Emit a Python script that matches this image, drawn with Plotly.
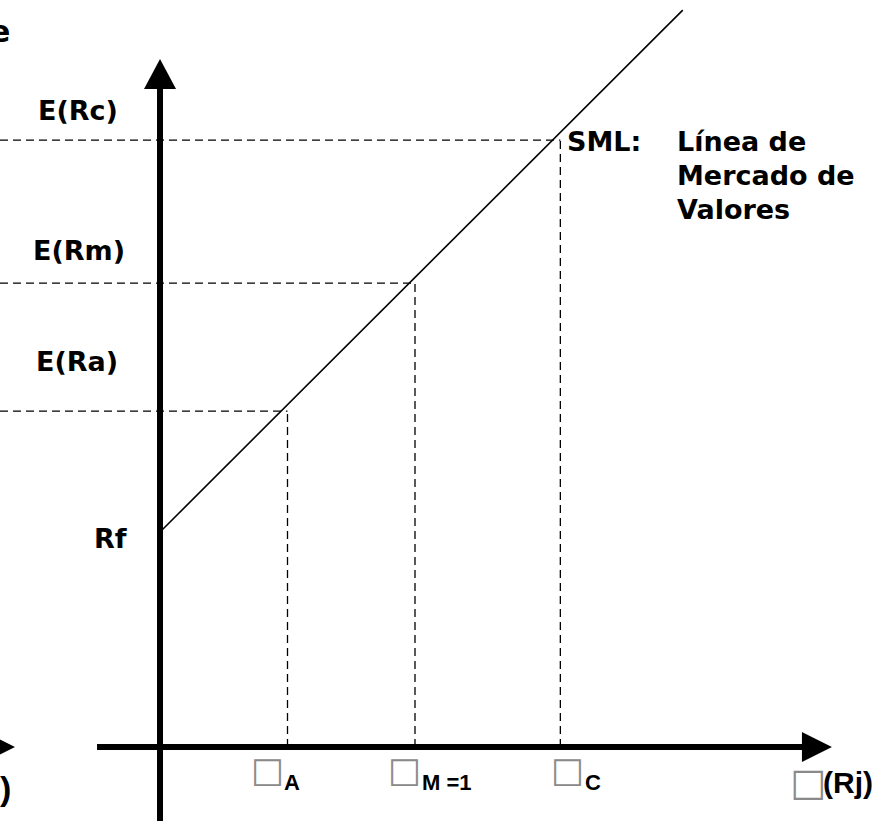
import plotly.graph_objects as go

# ---------------- data ----------------
beta_names = ["A", "M =1", "C"]
betas = [0.50, 1.00, 1.57]
return_names = ["E(Ra)", "E(Rm)", "E(Rc)"]
exp_returns = [6.25, 8.63, 11.29]
rf_label = "Rf"
rf = 4.0
sml_beta = [0.0, 2.05]
sml_return = [4.0, 13.71]
sml_title = "SML:"
sml_desc = ["Línea de", "Mercado de", "Valores"]
x_axis_label = "(Rj)"
box_char = "\u25a1"

# ---------------- layout constants ----------------
X_RANGE = [-0.6275, 2.804]
Y_RANGE = [-1.377, 13.898]
Y_AXIS_TIP = 12.80
X_AXIS_TIP = 2.635
X_AXIS_START = -0.247

FONT = "Liberation Sans, Arial, sans-serif"
BIGFONT = "DejaVu Sans"
BOXFONT = "DejaVu Sans"
DASH = "8px,5px"

fig = go.Figure()

# dashed guides
for b, r in zip(betas, exp_returns):
    fig.add_trace(go.Scatter(x=[X_RANGE[0], b], y=[r, r], mode="lines",
                             line=dict(color="black", width=1.3, dash=DASH),
                             hoverinfo="skip", showlegend=False))
    fig.add_trace(go.Scatter(x=[b, b], y=[0, r], mode="lines",
                             line=dict(color="black", width=1.3, dash=DASH),
                             hoverinfo="skip", showlegend=False))

# SML line
fig.add_trace(go.Scatter(x=sml_beta, y=sml_return, mode="lines",
                         line=dict(color="black", width=1.6),
                         hoverinfo="skip", showlegend=False))

shapes = []
# axes
shapes.append(dict(type="line", xref="x", yref="y", x0=0, x1=0, y0=Y_RANGE[0] - 1, y1=Y_AXIS_TIP - 0.3,
                   line=dict(color="black", width=6)))
shapes.append(dict(type="line", xref="x", yref="y", x0=X_AXIS_START, x1=X_AXIS_TIP - 0.06, y0=0, y1=0,
                   line=dict(color="black", width=6)))
# arrowheads (pixel-sized)
shapes.append(dict(type="path", xref="x", yref="y", xsizemode="pixel", ysizemode="pixel",
                   xanchor=0, yanchor=Y_AXIS_TIP, path="M 0,0 L -16,-30 L 16,-30 Z",
                   fillcolor="black", line=dict(width=0)))
shapes.append(dict(type="path", xref="x", yref="y", xsizemode="pixel", ysizemode="pixel",
                   xanchor=X_AXIS_TIP, yanchor=0, path="M 0,0 L -30,15 L -30,-15 Z",
                   fillcolor="black", line=dict(width=0)))
# partial arrow from neighbouring diagram at left edge
shapes.append(dict(type="path", xref="paper", yref="y", xsizemode="pixel", ysizemode="pixel",
                   xanchor=0, yanchor=0, path="M 15,0 L -15,15 L -15,-15 Z",
                   fillcolor="black", line=dict(width=0)))

ann = []
def A(**kw):
    base = dict(showarrow=False, font=dict(family=BIGFONT, size=27, color="black"))
    f = kw.pop("font", None)
    if f:
        base["font"].update(f)
    base.update(kw)
    ann.append(base)

# return labels
ret_shift = [(-40, 50), (-33, 33), (-40, 30)]
for name, r, (dx, dy) in zip(return_names, exp_returns, ret_shift):
    A(text="<b>%s</b>" % name, x=0, y=r, xref="x", yref="y", xanchor="right", yanchor="middle",
      xshift=dx, yshift=dy)
A(text="<b>%s</b>" % rf_label, x=0, y=rf, xref="x", yref="y", xanchor="right", yanchor="middle",
  xshift=-31, yshift=-6)

# SML labels
A(text="<b>%s</b>" % sml_title, x=betas[2], y=exp_returns[2], xref="x", yref="y",
  xanchor="left", yanchor="middle", xshift=5, yshift=-1)
for i, t in enumerate(sml_desc):
    A(text="<b>%s</b>" % t, x=betas[2], y=exp_returns[2], xref="x", yref="y",
      xanchor="left", yanchor="middle", xshift=115, yshift=-1 - 34 * i)

# beta labels below x axis
box_shift = [-20, -11, 7]
sub_shift = [-6, 5, 23]
for name, b, bs, ss in zip(beta_names, betas, box_shift, sub_shift):
    A(text=box_char, x=b, y=0, xref="x", yref="y", xanchor="center", yanchor="middle",
      xshift=bs, yshift=-23, font=dict(family=BOXFONT, size=35, color="#8a8a8a"))
    A(text="<b>%s</b>" % name, x=b, y=0, xref="x", yref="y", xanchor="left", yanchor="middle",
      xshift=ss, yshift=-36, font=dict(family=FONT, size=22))

# x axis label
A(text=box_char, x=X_AXIS_TIP, y=0, xref="x", yref="y", xanchor="center", yanchor="middle",
  xshift=-24, yshift=-35, font=dict(family=BOXFONT, size=38, color="#8a8a8a"))
A(text="<b>%s</b>" % x_axis_label, x=X_AXIS_TIP, y=0, xref="x", yref="y", xanchor="left", yanchor="middle",
  xshift=-11, yshift=-36, font=dict(family=FONT, size=30))

# remnants of neighbouring diagram at the left edge
A(text="<b>e</b>", x=0, y=1 - 31 / 821, xref="paper", yref="paper", xanchor="right", yanchor="middle",
  xshift=12, font=dict(size=30))
A(text="<b>)</b>", x=0, y=0, xref="paper", yref="y", xanchor="right", yanchor="middle",
  xshift=13, yshift=-41, font=dict(family=FONT, size=34))

fig.update_layout(
    width=875, height=821,
    margin=dict(l=0, r=0, t=0, b=0),
    paper_bgcolor="white", plot_bgcolor="white",
    xaxis=dict(range=X_RANGE, visible=False, fixedrange=True),
    yaxis=dict(range=Y_RANGE, visible=False, fixedrange=True),
    shapes=shapes, annotations=ann, showlegend=False,
)
fig.write_html("out.html", config={"displayModeBar": False},
               post_script="document.body.style.margin='0';document.body.style.overflow='hidden';"
                           "document.documentElement.style.overflow='hidden';")
